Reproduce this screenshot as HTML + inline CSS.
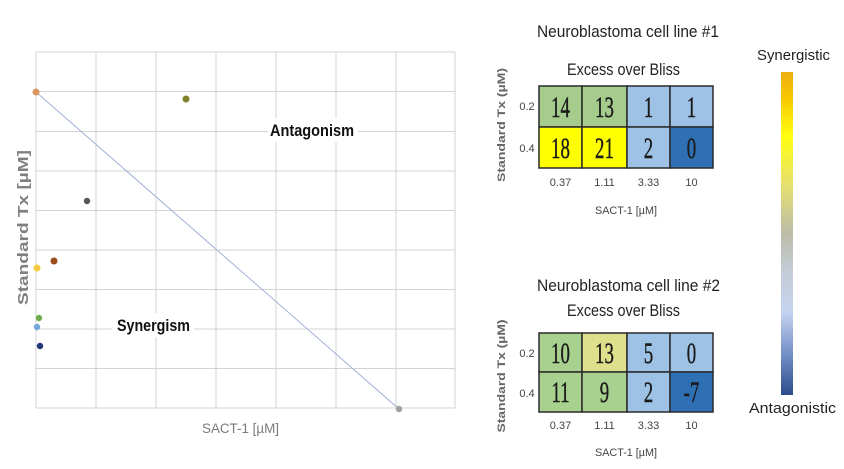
<!DOCTYPE html>
<html>
<head>
<meta charset="utf-8">
<style>
html,body{margin:0;padding:0;background:#fff;}
svg{display:block;}
</style>
</head>
<body>
<svg width="844" height="469" viewBox="0 0 844 469" xmlns="http://www.w3.org/2000/svg">
<defs>
<linearGradient id="cb" x1="0" y1="0" x2="0" y2="1">
<stop offset="0" stop-color="#eeae10"/>
<stop offset="0.08" stop-color="#f7c800"/>
<stop offset="0.2" stop-color="#ffff10"/>
<stop offset="0.35" stop-color="#e6e070"/>
<stop offset="0.5" stop-color="#bcbca8"/>
<stop offset="0.62" stop-color="#c4ccd8"/>
<stop offset="0.74" stop-color="#c6d4f0"/>
<stop offset="0.86" stop-color="#7c96cc"/>
<stop offset="1" stop-color="#2c4c8c"/>
</linearGradient>
</defs>
<rect width="844" height="469" fill="#fff"/>

<!-- Left chart grid -->
<g stroke="#d3d3d3" stroke-width="1" fill="none">
<line x1="36" y1="52" x2="455" y2="52"/>
<line x1="36" y1="91.5" x2="455" y2="91.5"/>
<line x1="36" y1="131.5" x2="455" y2="131.5"/>
<line x1="36" y1="171" x2="455" y2="171"/>
<line x1="36" y1="210.5" x2="455" y2="210.5"/>
<line x1="36" y1="250" x2="455" y2="250"/>
<line x1="36" y1="289.5" x2="455" y2="289.5"/>
<line x1="36" y1="329" x2="455" y2="329"/>
<line x1="36" y1="368.5" x2="455" y2="368.5"/>
<line x1="36" y1="408" x2="455" y2="408"/>
<line x1="36" y1="52" x2="36" y2="408"/>
<line x1="96" y1="52" x2="96" y2="408"/>
<line x1="156" y1="52" x2="156" y2="408"/>
<line x1="216" y1="52" x2="216" y2="408"/>
<line x1="276" y1="52" x2="276" y2="408"/>
<line x1="336" y1="52" x2="336" y2="408"/>
<line x1="396" y1="52" x2="396" y2="408"/>
<line x1="455" y1="52" x2="455" y2="408"/>
</g>
<rect x="268" y="118" width="90" height="24" fill="#fff"/>
<rect x="112" y="313" width="82" height="24" fill="#fff"/>
<line x1="36" y1="92" x2="399" y2="409" stroke="#9fb1d4" stroke-width="1"/>
<g>
<circle cx="36" cy="92" r="3.5" fill="#dc9660"/>
<circle cx="186" cy="99" r="3.5" fill="#7f7f2e"/>
<circle cx="87" cy="201" r="3.2" fill="#555555"/>
<circle cx="54" cy="261" r="3.5" fill="#9a4c1c"/>
<circle cx="37" cy="268" r="3.5" fill="#f4c944"/>
<circle cx="39" cy="318" r="3.2" fill="#6fae4c"/>
<circle cx="37" cy="327" r="3.2" fill="#74a8da"/>
<circle cx="40" cy="346" r="3.2" fill="#1f3b78"/>
<circle cx="399" cy="409" r="3.2" fill="#a0a0a0"/>
</g>
<g font-family="Liberation Sans, sans-serif">
<text x="270" y="136" font-size="17" font-weight="bold" fill="#111" textLength="84" lengthAdjust="spacingAndGlyphs">Antagonism</text>
<text x="117" y="331" font-size="17" font-weight="bold" fill="#111" textLength="73" lengthAdjust="spacingAndGlyphs">Synergism</text>
<text x="202" y="433" font-size="14" fill="#7a7a7a" textLength="77" lengthAdjust="spacingAndGlyphs">SACT-1 [µM]</text>
<text transform="translate(28,305) rotate(-90)" font-size="15" font-weight="bold" fill="#808080" textLength="155" lengthAdjust="spacingAndGlyphs">Standard Tx [µM]</text>
</g>

<!-- Heatmap 1 -->
<g font-family="Liberation Sans, sans-serif">
<text x="537" y="37" font-size="17" fill="#222" textLength="182" lengthAdjust="spacingAndGlyphs">Neuroblastoma cell line #1</text>
<text x="567" y="75" font-size="17" fill="#222" textLength="113" lengthAdjust="spacingAndGlyphs">Excess over Bliss</text>
</g>
<g stroke="#2a2a2a" stroke-width="1.5">
<rect x="539" y="86" width="43" height="41" fill="#a5cb8d"/>
<rect x="582" y="86" width="45" height="41" fill="#a5cb8d"/>
<rect x="627" y="86" width="43" height="41" fill="#9dc2e6"/>
<rect x="670" y="86" width="43" height="41" fill="#9dc2e6"/>
<rect x="539" y="127" width="43" height="41" fill="#ffff00"/>
<rect x="582" y="127" width="45" height="41" fill="#ffff00"/>
<rect x="627" y="127" width="43" height="41" fill="#9dc2e6"/>
<rect x="670" y="127" width="43" height="41" fill="#2f70b4"/>
</g>
<g font-family="Liberation Serif, serif" font-size="30" fill="#1a1a1a" text-anchor="middle" stroke="#1a1a1a" stroke-width="0.4">
<text transform="translate(560.5,117) scale(0.63,1)">14</text>
<text transform="translate(604.5,117) scale(0.63,1)">13</text>
<text transform="translate(648.5,117) scale(0.63,1)">1</text>
<text transform="translate(691.5,117) scale(0.63,1)">1</text>
<text transform="translate(560.5,158) scale(0.63,1)">18</text>
<text transform="translate(604.5,158) scale(0.63,1)">21</text>
<text transform="translate(648.5,158) scale(0.63,1)">2</text>
<text transform="translate(691.5,158) scale(0.63,1)">0</text>
</g>
<g font-family="Liberation Sans, sans-serif" font-size="11" fill="#444" text-anchor="middle">
<text x="527" y="110">0.2</text>
<text x="527" y="152">0.4</text>
<text x="560.5" y="186">0.37</text>
<text x="604.5" y="186">1.11</text>
<text x="648.5" y="186">3.33</text>
<text x="691.5" y="186">10</text>
<text x="626" y="214" textLength="62" lengthAdjust="spacingAndGlyphs">SACT-1 [µM]</text>
<text transform="translate(505,125) rotate(-90)" font-weight="bold" fill="#666" textLength="114" lengthAdjust="spacingAndGlyphs">Standard Tx (µM)</text>
</g>

<!-- Heatmap 2 -->
<g font-family="Liberation Sans, sans-serif">
<text x="537" y="291" font-size="17" fill="#222" textLength="183" lengthAdjust="spacingAndGlyphs">Neuroblastoma cell line #2</text>
<text x="567" y="316" font-size="17" fill="#222" textLength="113" lengthAdjust="spacingAndGlyphs">Excess over Bliss</text>
</g>
<g stroke="#2a2a2a" stroke-width="1.5">
<rect x="539" y="333" width="43" height="39" fill="#a8d08e"/>
<rect x="582" y="333" width="45" height="39" fill="#dfe08c"/>
<rect x="627" y="333" width="43" height="39" fill="#9dc2e6"/>
<rect x="670" y="333" width="43" height="39" fill="#9dc2e6"/>
<rect x="539" y="372" width="43" height="40" fill="#a8d08e"/>
<rect x="582" y="372" width="45" height="40" fill="#a8d08e"/>
<rect x="627" y="372" width="43" height="40" fill="#9dc2e6"/>
<rect x="670" y="372" width="43" height="40" fill="#2f70b4"/>
</g>
<g font-family="Liberation Serif, serif" font-size="30" fill="#1a1a1a" text-anchor="middle" stroke="#1a1a1a" stroke-width="0.4">
<text transform="translate(560.5,363) scale(0.63,1)">10</text>
<text transform="translate(604.5,363) scale(0.63,1)">13</text>
<text transform="translate(648.5,363) scale(0.63,1)">5</text>
<text transform="translate(691.5,363) scale(0.63,1)">0</text>
<text transform="translate(560.5,402) scale(0.63,1)">11</text>
<text transform="translate(604.5,402) scale(0.63,1)">9</text>
<text transform="translate(648.5,402) scale(0.63,1)">2</text>
<text transform="translate(691.5,402) scale(0.63,1)">-7</text>
</g>
<g font-family="Liberation Sans, sans-serif" font-size="11" fill="#444" text-anchor="middle">
<text x="527" y="357">0.2</text>
<text x="527" y="397">0.4</text>
<text x="560.5" y="429">0.37</text>
<text x="604.5" y="429">1.11</text>
<text x="648.5" y="429">3.33</text>
<text x="691.5" y="429">10</text>
<text x="626" y="456" textLength="62" lengthAdjust="spacingAndGlyphs">SACT-1 [µM]</text>
<text transform="translate(505,376) rotate(-90)" font-weight="bold" fill="#666" textLength="113" lengthAdjust="spacingAndGlyphs">Standard Tx (µM)</text>
</g>

<!-- Color bar -->
<rect x="781" y="72" width="12" height="323" fill="url(#cb)"/>
<g font-family="Liberation Sans, sans-serif" font-size="15" fill="#222">
<text x="757" y="60" textLength="73" lengthAdjust="spacingAndGlyphs">Synergistic</text>
<text x="749" y="413" textLength="87" lengthAdjust="spacingAndGlyphs">Antagonistic</text>
</g>
</svg>
</body>
</html>
